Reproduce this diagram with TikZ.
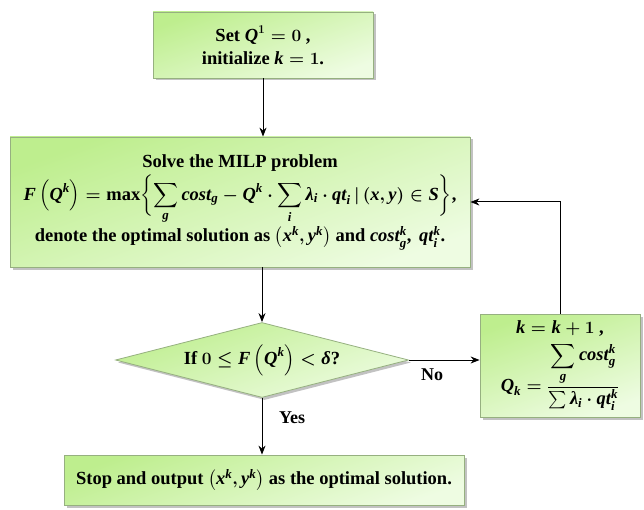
\documentclass[tikz,border=0pt]{standalone}
\usepackage{amsmath}
\usepackage{fontspec}
\setmainfont{Liberation Serif}
\usetikzlibrary{shapes.geometric,shadows,arrows.meta}
\newcommand{\mi}[1]{\textit{#1}}
\definecolor{gtop}{RGB}{190,238,142}
\definecolor{gbot}{RGB}{238,252,226}
\definecolor{boxborder}{RGB}{150,176,128}
\tikzset{
  box/.style={draw=boxborder, line width=0.8pt, top color=gtop, bottom color=gbot, shading angle=20,
    drop shadow={shadow xshift=2.5pt,shadow yshift=-2.5pt,fill=black!40,opacity=0.6},
    align=center, inner sep=2pt, font=\fontsize{18.5}{23}\selectfont\bfseries\boldmath},
  arr/.style={line width=1pt, -{Stealth[length=9pt,width=7pt]}},
  lbl/.style={font=\fontsize{18}{20}\selectfont\bfseries}
}
\begin{document}
\begin{tikzpicture}[x=1pt,y=1pt]
\useasboundingbox (0,0) rectangle (644,-510);
\node[box, minimum width=220pt, minimum height=66pt] (b1) at (263,-45)
  {Set $\mi{Q}^{1}=0$ ,\\ initialize $\mi{k}=1$.};
\node[box, minimum width=460pt, minimum height=130pt] (b2) at (240,-202)
  {Solve the MILP problem\\[3pt]
   $\displaystyle \mi{F}\left(\mi{Q}^{\mi{k}}\right)=\mathrm{\textbf{max}}\biggl\{\sum\limits_{\mi{g}} \mi{cost}_{\mi{g}}-\mi{Q}^{\mi{k}}\cdot\sum\limits_{\mi{i}}\mi{λ}_{\mi{i}}\cdot \mi{qt}_{\mi{i}}\,|\left(\mi{x},\mi{y}\right)\in \mi{S}\biggr\}$,\\[1pt]
   denote the optimal solution as $\left(\mi{x}^{\mi{k}},\mi{y}^{\mi{k}}\right)$ and $\mi{cost}_{\mi{g}}^{\mi{k}}$,\, $\mi{qt}_{\mi{i}}^{\mi{k}}$.};
\node[box, shape=diamond, aspect=3.9, inner sep=0pt, minimum width=293pt, minimum height=75pt] (d) at (262,-360)
  {If $0\le \mi{F}\left(\mi{Q}^{\mi{k}}\right)<\mi{δ}$?};
\node[box, minimum width=160pt, minimum height=103pt] (b3) at (560,-365.5)
  {$\mi{k}=\mi{k}+1$ ,\\[5pt]
   $\mi{Q}_{\mi{k}}=\dfrac{\displaystyle\sum\limits_{\mi{g}} \mi{cost}_{\mi{g}}^{\mi{k}}}{\sum\mi{λ}_{\mi{i}}\cdot \mi{qt}_{\mi{i}}^{\mi{k}}}$};
\node[box, minimum width=400pt, minimum height=50pt] (b4) at (264,-480)
  {Stop and output $\left(\mi{x}^{\mi{k}},\mi{y}^{\mi{k}}\right)$ as the optimal solution.};
\draw[arr] (b1.south) -- (b1.south |- b2.north);
\draw[arr] (b2.south -| d.north) -- (d.north);
\draw[arr] (d.east) -- (d.east -| b3.west);
\draw[arr] (b3.north) |- (b2.east);
\draw[arr] (d.south) -- (d.south |- b4.north);
\node[lbl] (no) at (432,-375) {No};
\node[lbl] (yes) at (292,-418) {Yes};
\end{tikzpicture}
\end{document}
